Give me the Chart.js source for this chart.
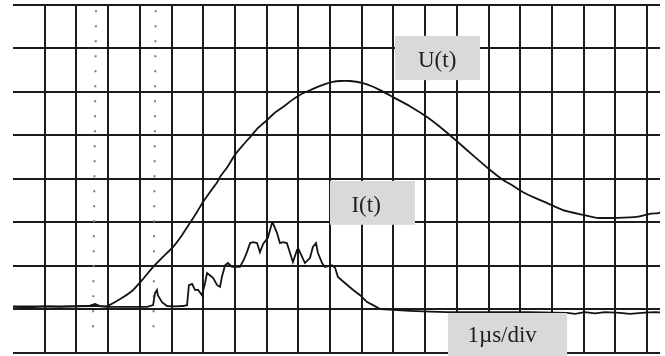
<!DOCTYPE html>
<html>
<head>
<meta charset="utf-8">
<script src="https://cdn.jsdelivr.net/npm/chart.js@4/dist/chart.umd.min.js"></script>
<style>
  html, body { margin: 0; padding: 0; background: #ffffff; }
  #wrap { width: 665px; height: 356px; }
</style>
</head>
<body>
<div id="wrap"><canvas id="c" width="665" height="356"></canvas></div>
<script>
// Time axis in µs (1 µs/div), vertical axis in divisions
const uTime = [0.00,1.48,2.59,2.97,3.38,3.79,4.10,4.42,4.73,5.05,5.33,5.58,5.80,5.99,6.21,6.44,6.53,6.78,7.00,7.26,7.48,7.73,8.01,8.26,8.52,8.80,9.05,9.31,9.59,9.84,10.09,10.32,10.63,11.04,11.32,11.58,11.99,12.52,13.06,13.56,14.04,14.54,15.05,15.46,15.68,16.09,16.47,16.85,17.35,17.98,18.42,19.05,19.68,20.09,20.35,20.57];
const uValues = [1.06,1.06,1.07,1.07,1.23,1.44,1.69,1.97,2.20,2.43,2.70,2.98,3.23,3.46,3.69,3.92,4.04,4.29,4.55,4.78,4.96,5.17,5.35,5.52,5.65,5.81,5.93,6.02,6.11,6.18,6.23,6.25,6.25,6.20,6.13,6.04,5.88,5.67,5.42,5.14,4.84,4.52,4.20,3.97,3.88,3.69,3.56,3.44,3.28,3.17,3.10,3.10,3.12,3.19,3.21,3.24];

const iTime = [0.00,0.54,1.01,1.48,1.96,2.43,2.59,2.74,2.97,3.38,4.01,4.23,4.42,4.48,4.54,4.57,4.70,4.86,5.11,5.36,5.49,5.55,5.65,5.74,5.84,5.96,6.06,6.12,6.21,6.31,6.44,6.53,6.59,6.69,6.78,6.91,7.16,7.29,7.38,7.48,7.57,7.70,7.79,7.89,8.04,8.17,8.20,8.33,8.42,8.52,8.64,8.74,8.83,8.96,8.99,9.12,9.21,9.37,9.46,9.56,9.62,9.75,9.84,10.06,10.16,10.25,10.47,10.73,10.95,11.17,11.36,11.58,11.99,12.52,13.15,13.69,14.42,15.36,16.31,17.48,17.73,18.04,18.36,18.68,19.15,19.46,19.94,20.25,20.57];
const iValues = [1.05,1.04,1.06,1.05,1.06,1.08,1.12,1.07,1.05,1.05,1.05,1.05,1.09,1.37,1.44,1.32,1.16,1.07,1.06,1.07,1.09,1.55,1.58,1.44,1.44,1.32,1.60,1.83,1.78,1.72,1.55,1.51,1.74,2.01,2.06,1.97,1.97,2.15,2.31,2.52,2.54,2.52,2.31,2.50,2.64,2.98,2.98,2.75,2.52,2.54,2.52,2.29,2.08,2.36,2.41,2.20,2.06,2.18,2.43,2.52,2.29,2.06,1.97,2.01,1.95,1.74,1.60,1.44,1.32,1.16,1.09,1.00,0.98,0.96,0.94,0.93,0.93,0.93,0.93,0.91,0.89,0.93,0.90,0.93,0.91,0.89,0.92,0.93,0.92];

// Dotted cursor lines on the screen (x at top, x at bottom, y span)
const cursorTopX = [2.62, 4.50];
const cursorBottomX = [2.52, 4.43];
const cursorSpan = [7.88, 0.33];

// Axis ranges (divisions)
const xRange = [0, 20.41];
const yRange = [0, 8];

// Text labels
const labelTexts = ['U(t)', 'I(t)', '1\u00b5s/div'];
const labelBoxes = [ // [x1, x2, yTop, yBottom] in data units
  [12.05, 14.73, 7.29, 6.27],
  [10.00, 12.68, 3.95, 2.94],
  [13.72, 17.48, 0.91, -0.30]
];
const labelAnchors = [ // text centre [x, y] in data units
  [13.38, 6.71],
  [11.14, 3.37],
  [15.43, 0.38]
];

const zip = (xs, ys) => xs.map((x, k) => ({ x: x, y: ys[k] }));

const labelPlugin = {
  id: 'scopeLabels',
  afterDatasetsDraw(chart) {
    const ctx = chart.ctx;
    const xs = chart.scales.x, ys = chart.scales.y;
    ctx.save();
    labelTexts.forEach((t, k) => {
      const b = labelBoxes[k];
      const x1 = xs.getPixelForValue(b[0]), x2 = xs.getPixelForValue(b[1]);
      const y1 = ys.getPixelForValue(b[2]), y2 = ys.getPixelForValue(b[3]);
      ctx.fillStyle = '#d9d9d9';
      ctx.fillRect(x1, y1, x2 - x1, y2 - y1);
      ctx.fillStyle = '#1e1e1e';
      ctx.font = '23px "Liberation Serif", "Times New Roman", serif';
      ctx.textAlign = 'center';
      ctx.textBaseline = 'middle';
      ctx.fillText(t, xs.getPixelForValue(labelAnchors[k][0]), ys.getPixelForValue(labelAnchors[k][1]));
    });
    ctx.restore();
  }
};

const cursorSets = cursorTopX.map((xt, k) => ({
  type: 'line',
  data: [{ x: xt, y: cursorSpan[0] }, { x: cursorBottomX[k], y: cursorSpan[1] }],
  borderColor: '#7a7a7a',
  borderWidth: 2,
  borderDash: [2, 13],
  pointRadius: 0,
  fill: false,
  order: 5
}));

new Chart(document.getElementById('c'), {
  type: 'line',
  data: {
    datasets: [
      ...cursorSets,
      {
        label: 'U(t)',
        data: zip(uTime, uValues),
        borderColor: '#141414',
        borderWidth: 1.8,
        pointRadius: 0,
        tension: 0.2,
        fill: false,
        order: 1
      },
      {
        label: 'I(t)',
        data: zip(iTime, iValues),
        borderColor: '#141414',
        borderWidth: 1.8,
        pointRadius: 0,
        tension: 0,
        fill: false,
        order: 2
      }
    ]
  },
  options: {
    responsive: false,
    animation: false,
    devicePixelRatio: 1,
    layout: { padding: { left: 13, right: 5, top: 5, bottom: 3.5 } },
    plugins: { legend: { display: false }, tooltip: { enabled: false } },
    scales: {
      x: {
        type: 'linear',
        min: xRange[0],
        max: xRange[1],
        ticks: { display: false, stepSize: 1, includeBounds: false },
        grid: {
          drawTicks: false,
          lineWidth: 2,
          color: (c) => (c.tick && Number.isInteger(c.tick.value) && c.tick.value > 0) ? '#1c1c1c' : 'rgba(0,0,0,0)'
        },
        border: { display: false },
        afterFit: (s) => { s.height = 0; }
      },
      y: {
        type: 'linear',
        min: yRange[0],
        max: yRange[1],
        ticks: { display: false, stepSize: 1 },
        grid: { drawTicks: false, lineWidth: 2, color: '#1c1c1c' },
        border: { display: false },
        afterFit: (s) => { s.width = 0; }
      }
    }
  },
  plugins: [labelPlugin]
});
</script>
</body>
</html>
